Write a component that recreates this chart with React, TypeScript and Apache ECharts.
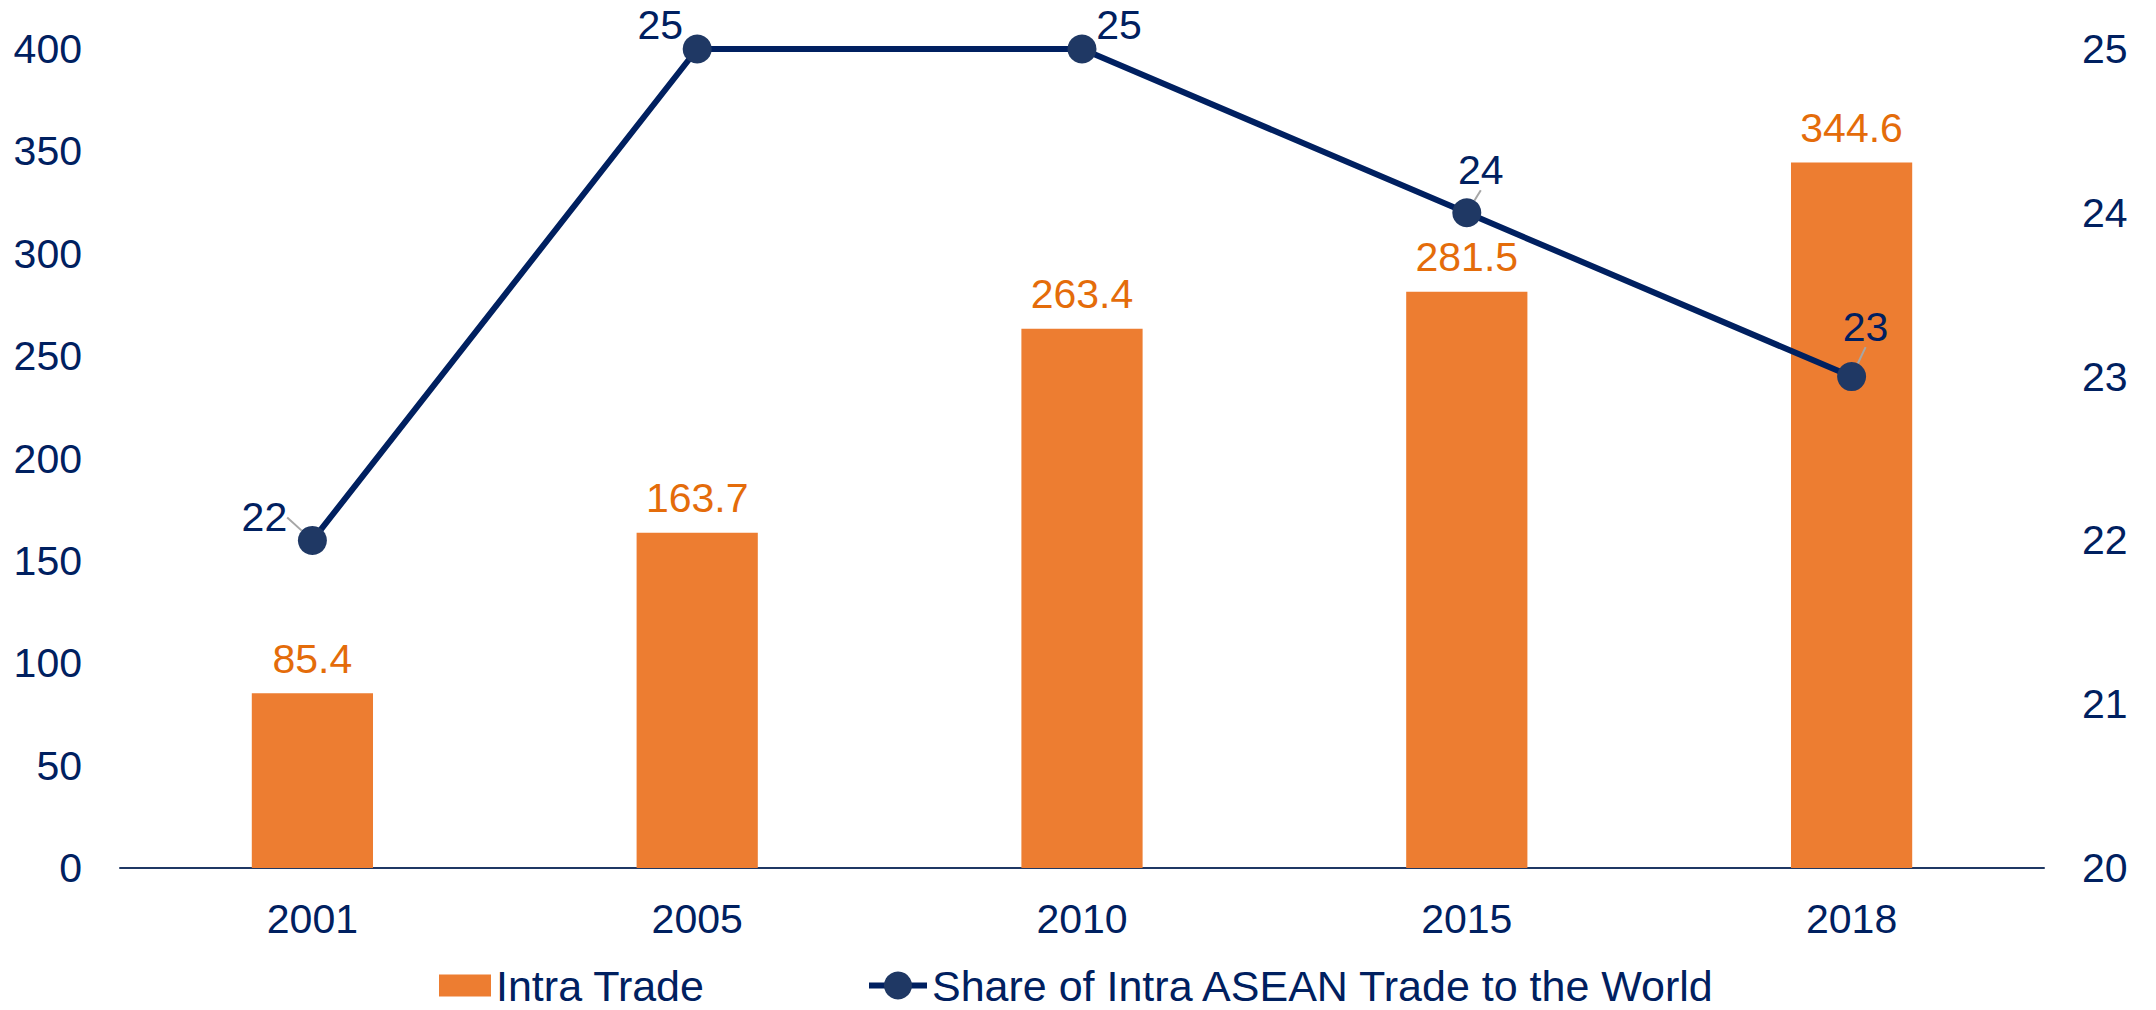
import React, { useEffect, useRef } from "react";
import * as echarts from "echarts";

const categories = ["2001", "2005", "2010", "2015", "2018"];
const intraTrade = [85.4, 163.7, 263.4, 281.5, 344.6];
const shareOfWorld = [22, 25, 25, 24, 23];
const leftTicks = { min: 0, max: 400, interval: 50 };
const rightTicks = { min: 20, max: 25, interval: 1 };

// label placement offsets (layout, not data)
const lineLabelShift: [number, number][] = [
  [-48, -23],
  [-37, -24],
  [37, -24],
  [14, -43],
  [14, -50],
];
const withGuide = [true, false, false, true, true];

const FONT = "Liberation Sans, Arial, sans-serif";
const NAVY = "#002060";
const BAR_NAME = "Intra Trade";
const LINE_NAME = "Share of Intra ASEAN Trade to the World";

export default function App() {
  const ref = useRef<HTMLDivElement>(null);
  useEffect(() => {
    if (!ref.current) return;
    const chart = echarts.init(ref.current, undefined, { renderer: "svg" });
    const legendText = { fontSize: 43, lineHeight: 36, color: NAVY, fontFamily: FONT };
    chart.setOption({
      animation: false,
      textStyle: { fontFamily: FONT },
      grid: { left: 120, right: 112, top: 49, bottom: 142, containLabel: false },
      legend: [
        {
          left: 439,
          top: 964,
          padding: 0,
          itemWidth: 52,
          itemHeight: 22,
          textStyle: legendText,
          data: [{ name: BAR_NAME, icon: "rect" }],
        },
        {
          left: 866,
          top: 964,
          padding: 0,
          itemWidth: 58,
          itemHeight: 35,
          lineStyle: { width: 6, color: NAVY },
          textStyle: legendText,
          data: [{ name: LINE_NAME }],
        },
      ],
      xAxis: {
        type: "category",
        data: categories,
        axisLine: { show: true, lineStyle: { color: "#1F3864", width: 2 } },
        axisTick: { show: false },
        axisLabel: { fontSize: 41, color: NAVY, margin: 30, fontFamily: FONT },
      },
      yAxis: [
        {
          type: "value",
          min: leftTicks.min,
          max: leftTicks.max,
          interval: leftTicks.interval,
          splitLine: { show: false },
          axisLine: { show: false },
          axisTick: { show: false },
          axisLabel: { fontSize: 41, color: NAVY, margin: 38, fontFamily: FONT },
        },
        {
          type: "value",
          position: "right",
          min: rightTicks.min,
          max: rightTicks.max,
          interval: rightTicks.interval,
          splitLine: { show: false },
          axisLine: { show: false },
          axisTick: { show: false },
          axisLabel: { fontSize: 41, color: NAVY, margin: 38, fontFamily: FONT },
        },
      ],
      series: [
        {
          name: BAR_NAME,
          type: "bar",
          data: intraTrade,
          barWidth: "31.5%",
          itemStyle: { color: "#ED7D31" },
          label: {
            show: true,
            position: "top",
            distance: 14,
            fontSize: 41,
            color: "#E46C0A",
            fontFamily: FONT,
          },
        },
        {
          name: LINE_NAME,
          type: "line",
          yAxisIndex: 1,
          data: shareOfWorld.map((v, i) => ({
            value: v,
            labelLine: {
              show: withGuide[i],
              lineStyle: { color: "#A6A6A6", width: 2 },
            },
          })),
          symbol: "circle",
          symbolSize: 29,
          lineStyle: { color: NAVY, width: 6 },
          itemStyle: { color: "#1F3864" },
          label: {
            show: true,
            position: "inside",
            fontSize: 41,
            color: NAVY,
            fontFamily: FONT,
          },
          labelLayout: (params: any) => ({
            dx: lineLabelShift[params.dataIndex][0],
            dy: lineLabelShift[params.dataIndex][1],
          }),
          z: 5,
        },
      ],
    });
    return () => chart.dispose();
  }, []);
  return (
    <div
      ref={ref}
      style={{ position: "fixed", left: 0, top: 0, width: 2156, height: 1010, background: "#fff" }}
    />
  );
}
